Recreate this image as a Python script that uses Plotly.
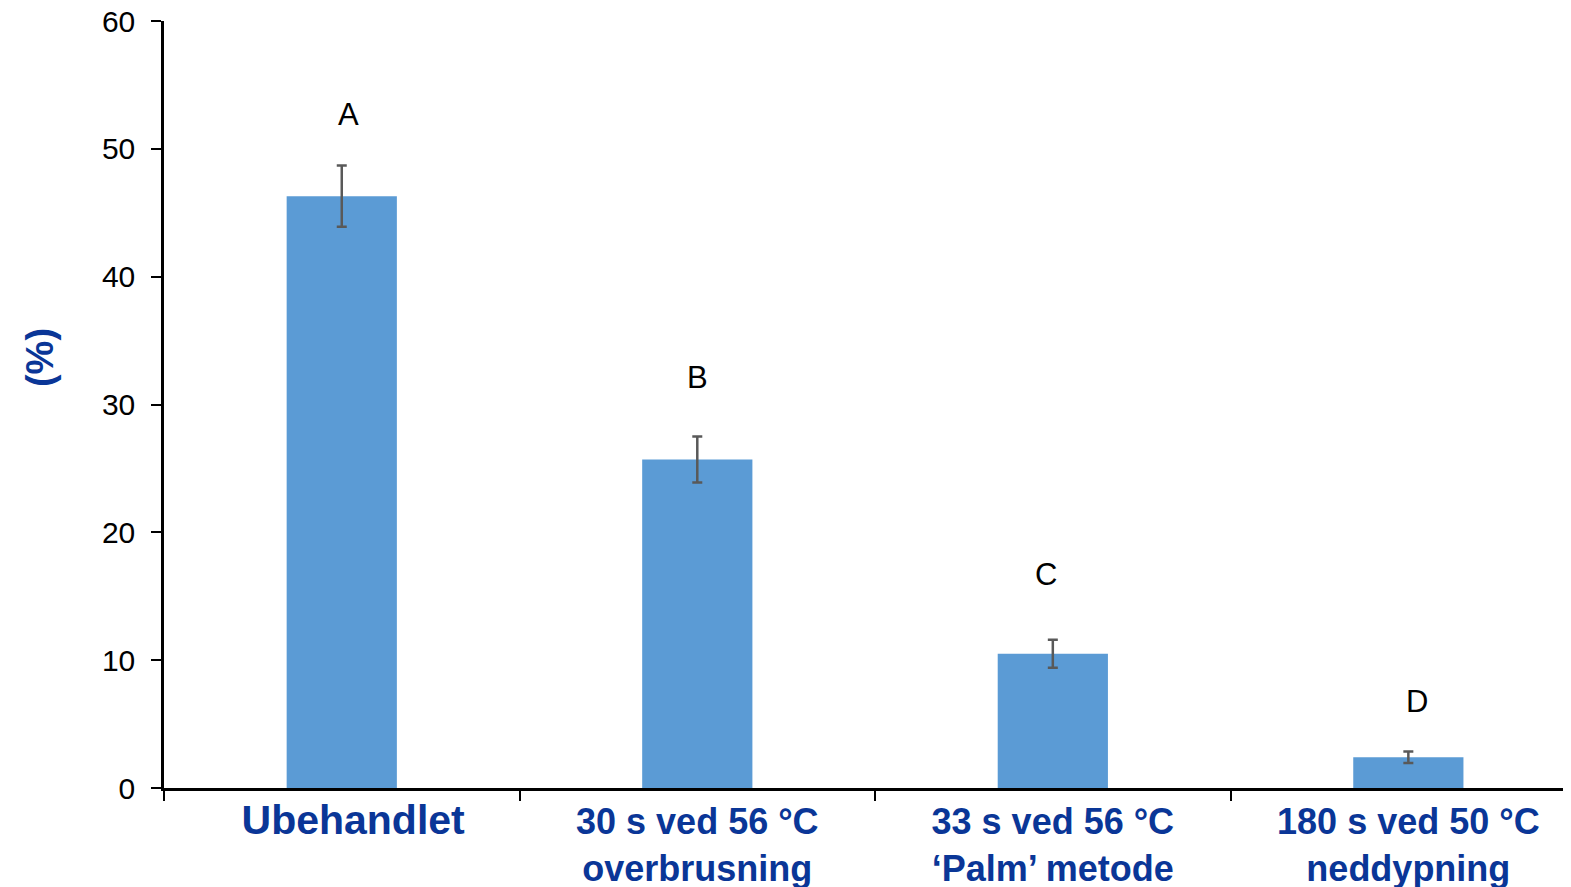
import plotly.graph_objects as go

categories = ["Ubehandlet", "30 s ved 56 °C overbrusning", "33 s ved 56 °C ‘Palm’ metode", "180 s ved 50 °C neddypning"]
tick_labels = [
    '<span style="font-size:41px">&nbsp;&nbsp;Ubehandlet</span>',
    "30 s ved 56 °C<br>overbrusning",
    "33 s ved 56 °C<br>‘Palm’ metode",
    "180 s ved 50 °C<br>neddypning",
]
values = [46.3, 25.7, 10.5, 2.4]
errors = [2.4, 1.8, 1.1, 0.45]
letters = ["A", "B", "C", "D"]
letter_y = [52.7, 32.1, 16.7, 6.8]
y_ticks = [0, 10, 20, 30, 40, 50, 60]

BLUE = "#0a3697"
letter_shift = [7, 0, -7, 9]

fig = go.Figure()
fig.add_trace(go.Bar(
    x=categories, y=values, width=0.31,
    marker=dict(color="#5b9bd5", line=dict(width=0)),
    error_y=dict(type="data", array=errors, color="#595959", thickness=2.5, width=5),
))

for c, l, ly, sh in zip(categories, letters, letter_y, letter_shift):
    fig.add_annotation(x=c, y=ly, text=l, showarrow=False, yanchor="middle", xshift=sh,
                       font=dict(family="Liberation Sans, Arial", size=31, color="black"))

fig.add_annotation(xref="paper", yref="paper", x=-0.0876, y=0.5606, text="<b>(%)</b>",
                   textangle=-90, showarrow=False, xanchor="center", yanchor="middle",
                   font=dict(family="Liberation Sans, Arial", size=38, color=BLUE))

fig.update_layout(
    width=1571, height=887,
    margin=dict(l=156, r=0, t=13, b=107),
    plot_bgcolor="white", paper_bgcolor="white",
    showlegend=False, bargap=0.69,
)
fig.update_xaxes(
    type="category", categoryorder="array", categoryarray=categories,
    tickvals=categories, ticktext=tick_labels,
    range=[-0.5, 3.48], tickson="boundaries",
    ticks="outside", ticklen=10, tickwidth=2, tickcolor="black",
    showline=True, linecolor="black", linewidth=2.5,
    tickfont=dict(family="Liberation Sans, Arial", size=36, color=BLUE, weight="bold"),
    automargin=False, showgrid=False, ticklabeloverflow="allow",
)
fig.update_yaxes(
    range=[0, 60], tickvals=y_ticks,
    ticks="outside", ticklen=10, tickwidth=2, tickcolor="black",
    showline=True, linecolor="black", linewidth=2.5,
    tickfont=dict(family="Liberation Sans, Arial", size=30, color="black"),
    ticklabelstandoff=10, showgrid=False, zeroline=False, automargin=False,
    ticklabeloverflow="allow",
)

fig.write_html("out.html")
